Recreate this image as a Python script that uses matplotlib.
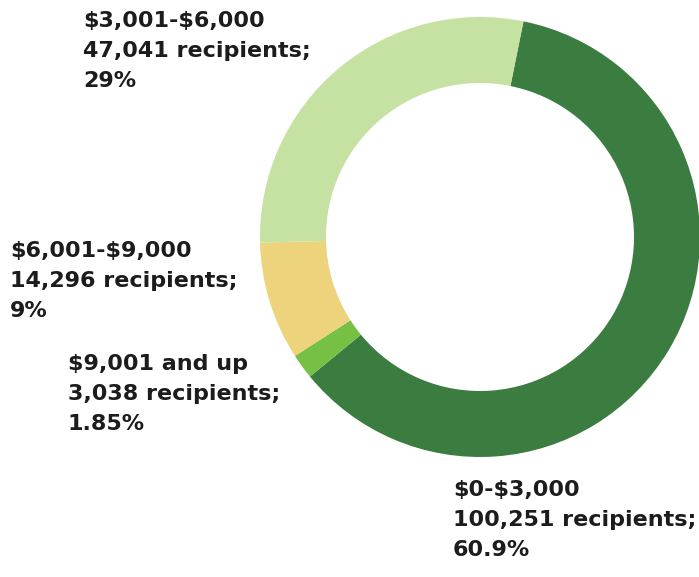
import matplotlib.pyplot as plt
import numpy as np

# segmenty wykresu, w kolejnosci zgodnej z ruchem wskazowek zegara od gory
przedzialy = ["$0-$3,000", "$9,001 and up", "$6,001-$9,000", "$3,001-$6,000"]
odbiorcy = [100251, 3038, 14296, 47041]
procenty = ["60.9%", "1.85%", "9%", "29%"]
kolory = ["#3b7d40", "#76c043", "#ecd37c", "#c6e2a2"]

# polozenie etykiet w pikselach (lewy brzeg, srodek srodkowej linii)
etykiety_px = [(453, 520), (68, 394), (10, 281), (83, 51)]

W, H = 699, 577
cx, cy, r = 480, 237, 220  # srodek i promien pierscienia w pikselach

fig = plt.figure(figsize=(W / 100, H / 100), dpi=100)
ax = fig.add_axes([(cx - r) / W, (H - cy - r) / H, 2 * r / W, 2 * r / H])

wedges, _ = ax.pie(odbiorcy, colors=kolory, startangle=78.6, counterclock=False,
                   radius=1.0, wedgeprops=dict(width=0.3, linewidth=0))
ax.set_xlim(-1, 1)
ax.set_ylim(-1, 1)
ax.set_aspect("equal")
ax.axis("off")

for nazwa, n, p, (px, py) in zip(przedzialy, odbiorcy, procenty, etykiety_px):
    tekst = f"{nazwa}\n{n:,} recipients;\n{p}"
    ax.text((px - cx) / r, (cy - py) / r, tekst, ha="left", va="center",
            fontsize=16, family="DejaVu Sans", fontweight="bold",
            color="#1c1c1c", linespacing=1.65, clip_on=False, parse_math=False)

fig.savefig("out.png", dpi=100)
